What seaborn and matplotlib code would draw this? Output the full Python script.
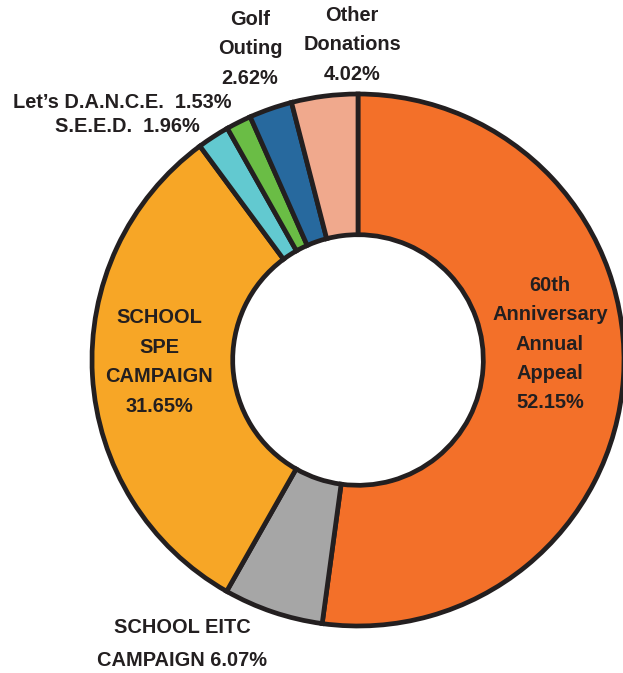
import matplotlib
matplotlib.use("Agg")
import matplotlib.pyplot as plt
import seaborn as sns

# 数据
categories = ["60th Anniversary Annual Appeal", "SCHOOL EITC CAMPAIGN", "SCHOOL SPE CAMPAIGN",
              "S.E.E.D.", "Let\u2019s D.A.N.C.E.", "Golf Outing", "Other Donations"]
shares = [52.15, 6.07, 31.65, 1.96, 1.53, 2.62, 4.02]
colors = ["#F37029", "#A6A6A6", "#F7A626", "#62C9D0", "#6ABD45", "#27699E", "#F0A98D"]

sns.set_theme(style="white")
plt.rcParams['font.family'] = ['Liberation Sans', 'DejaVu Sans']

W, H = 623, 673
cx, cy, R = 358, 360, 268  # 像素
fig = plt.figure(figsize=(W / 100, H / 100), dpi=100)
ax = fig.add_axes([0, 0, 1, 1])

ax.pie(shares, colors=colors, startangle=90, counterclock=False, radius=1 - 2.0 / R,
       wedgeprops=dict(width=0.525, edgecolor="#231F20", linewidth=3.4))

ax.set_xlim(-cx / R, (W - cx) / R)
ax.set_ylim(-(H - cy) / R, cy / R)
ax.set_aspect("equal")
ax.axis("off")

txt = "#231F20"


def px(x, y):
    # 像素坐标 -> 数据坐标
    return (x - cx) / R, (cy - y) / R


def label(x, y, s, ha="center", ls=1.69):
    ax.text(*px(x, y), s, ha=ha, va="center", color=txt, fontsize=14.4,
            fontweight="bold", linespacing=ls)


label(550, 344, "60th\nAnniversary\nAnnual\nAppeal\n" + f"{shares[0]:.2f}%")
label(159, 362, "SCHOOL\nSPE\nCAMPAIGN\n" + f"{shares[2]:.2f}%")
label(182, 644, "SCHOOL EITC\nCAMPAIGN " + f"{shares[1]:.2f}%", ls=1.88)
label(250, 49, "Golf\nOuting\n" + f"{shares[5]:.2f}%", ls=1.68)
label(352, 45, "Other\nDonations\n" + f"{shares[6]:.2f}%", ls=1.68)
label(231, 102, "Let\u2019s D.A.N.C.E.  " + f"{shares[4]:.2f}%", ha="right")
label(200, 127, "S.E.E.D.  " + f"{shares[3]:.2f}%", ha="right")

fig.savefig("out.png", dpi=100)
